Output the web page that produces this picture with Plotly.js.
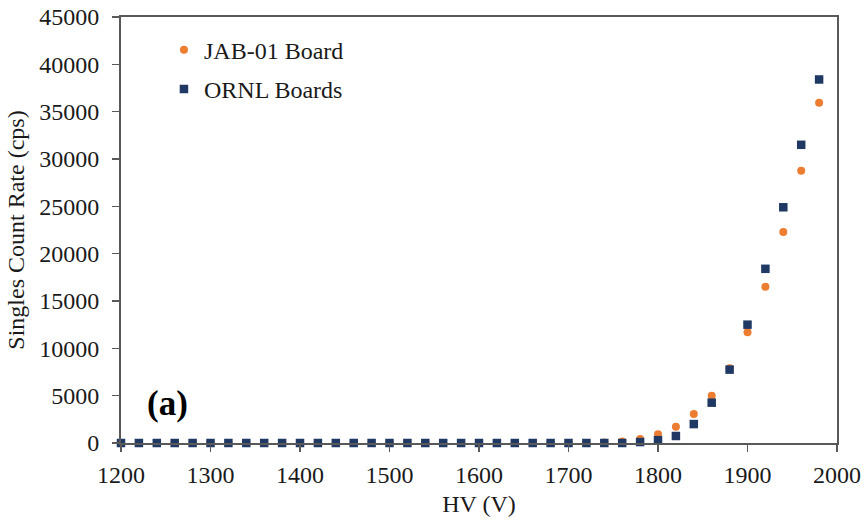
<!DOCTYPE html>
<html><head><meta charset="utf-8">
<script src="https://cdn.plot.ly/plotly-3.0.1.min.js"></script>
<style>body{margin:0;background:#fff}#chart{width:867px;height:521px}</style>
</head><body><div id="chart"></div>
<script>
const hv = [1200,1220,1240,1260,1280,1300,1320,1340,1360,1380,1400,1420,1440,1460,1480,1500,1520,1540,1560,1580,1600,1620,1640,1660,1680,1700,1720,1740,1760,1780,1800,1820,1840,1860,1880,1900,1920,1940,1960,1980];
const jab = [0,0,0,0,0,0,0,0,0,0,0,0,0,0,0,0,0,0,0,0,0,0,0,0,0,0,0,50,150,420,920,1720,3060,5000,7900,11700,16500,22300,28750,35950];
const ornl = [0,0,0,0,0,0,0,0,0,0,0,0,0,0,0,0,0,0,0,0,0,0,0,0,0,0,0,0,0,100,300,740,2000,4260,7750,12500,18400,24900,31500,38400];
const names = ["JAB-01 Board","ORNL Boards"];

const fam = "Liberation Serif, Times New Roman, serif";
const txt = "#1a1a1a";
const data = [
  {x:hv, y:jab, name:names[0], legendgroup:"a", type:"scatter", mode:"markers", cliponaxis:false,
   marker:{symbol:"circle", size:8, color:"#ED7D31"}},
  {x:hv, y:ornl, name:names[1], legendgroup:"b", type:"scatter", mode:"markers", cliponaxis:false,
   marker:{symbol:"square", size:8.5, color:"#203864"}}
];
const layout = {
  width:867, height:521,
  margin:{l:121, r:30, t:17, b:78},
  paper_bgcolor:"#fff", plot_bgcolor:"#fff",
  font:{family:fam, color:txt},
  showlegend:true,
  legend:{x:0.06, y:0.975, xanchor:"left", yanchor:"top", bgcolor:"rgba(0,0,0,0)",
          font:{family:fam, size:24, color:txt}, tracegroupgap:5},
  xaxis:{range:[1200,2000], dtick:100, tick0:1200, showgrid:false, zeroline:false,
         showline:true, linecolor:"#595959", linewidth:2, mirror:true,
         ticks:"outside", ticklen:7, tickcolor:"#595959", tickwidth:1.5,
         ticklabelstandoff:2,
         tickfont:{family:fam, size:24, color:txt},
         title:{text:"HV (V)", font:{family:fam, size:24, color:txt}, standoff:8}},
  yaxis:{range:[0,45000], dtick:5000, showgrid:false, zeroline:false,
         showline:true, linecolor:"#595959", linewidth:2, mirror:true,
         ticks:"outside", ticklen:7, tickcolor:"#595959", tickwidth:1.5, tickformat:"d",
         ticklabelstandoff:8,
         tickfont:{family:fam, size:24, color:txt},
         title:{text:"Singles Count Rate (cps)", font:{family:fam, size:24, color:txt}, standoff:8}},
  annotations:[{text:"<b>(a)</b>", xref:"paper", yref:"paper", x:0.034, y:0.092, xanchor:"left", yanchor:"middle",
                showarrow:false, font:{family:fam, size:35, color:"#000"}}]
};
Plotly.newPlot("chart", data, layout, {displayModeBar:false, staticPlot:true});
</script></body></html>
